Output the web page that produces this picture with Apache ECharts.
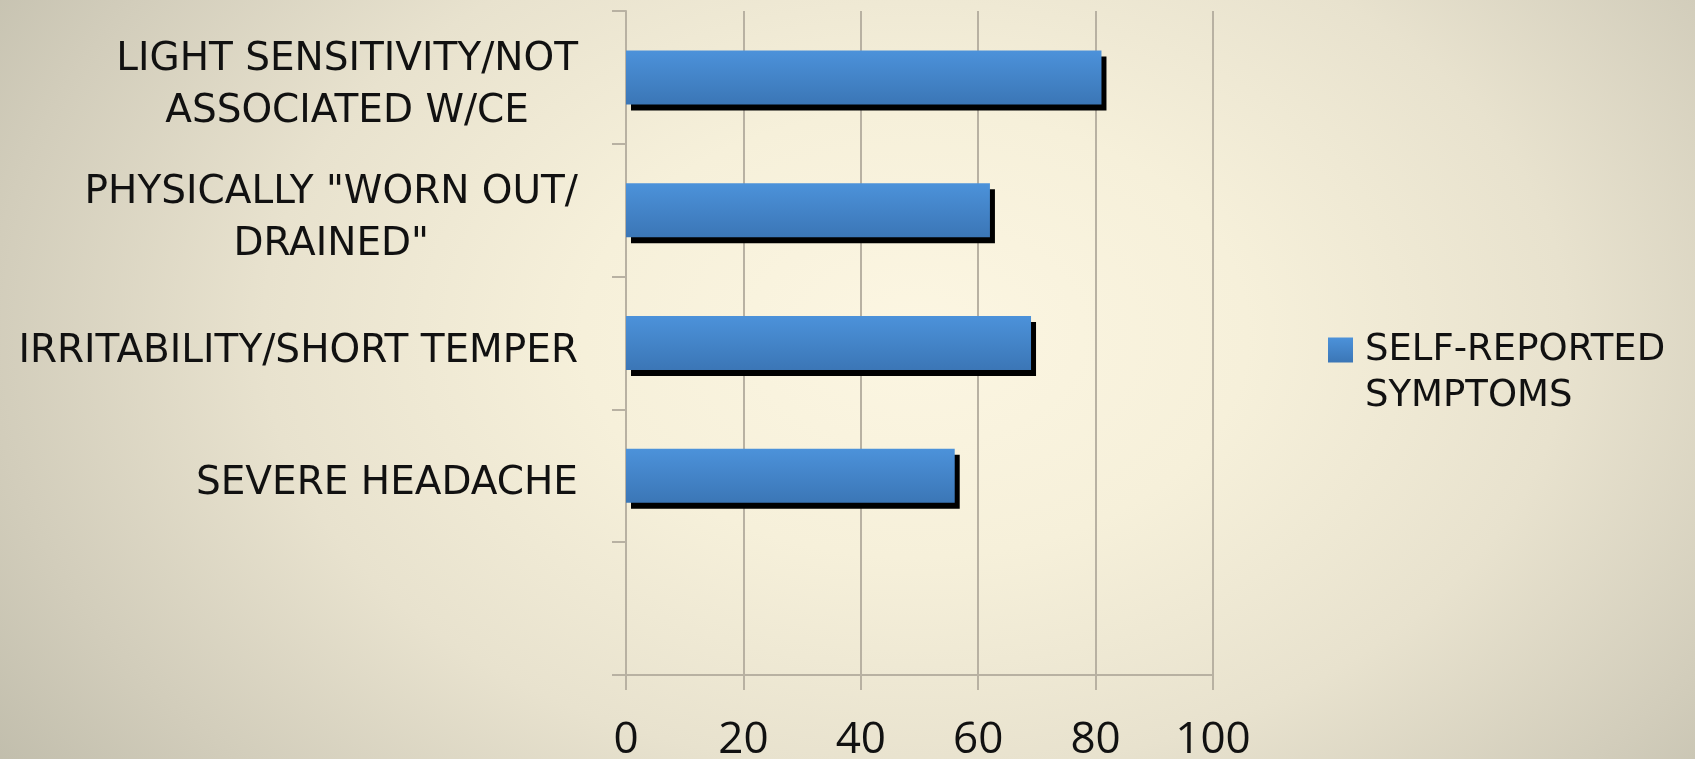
<!DOCTYPE html>
<html>
<head>
<meta charset="utf-8">
<script src="https://cdn.jsdelivr.net/npm/echarts@6/dist/echarts.min.js"></script>
<style>
  html, body { margin: 0; padding: 0; }
  #chart {
    width: 1695px;
    height: 759px;
    background: radial-gradient(ellipse 70% 105% at 54% 44%,
      #fcf6e2 0%, #f6f0da 28%, #e8e2ce 55%, #d2cdbb 78%, #bbb8a7 100%);
  }
</style>
</head>
<body>
<div id="chart"></div>
<script>
// Symptom categories, listed top to bottom (last row is an empty slot)
const categories = [
  'LIGHT SENSITIVITY/NOT\nASSOCIATED W/CE',
  'PHYSICALLY "WORN OUT/\nDRAINED"',
  'IRRITABILITY/SHORT TEMPER',
  'SEVERE HEADACHE',
  ''
];
// Percent of respondents reporting each symptom
const selfReported = [81, 62, 69, 56, null];
const seriesName = 'SELF-REPORTED\nSYMPTOMS';
const xTicks = { min: 0, max: 100, interval: 20 };

const gridColor = '#b8b1a2';
const textColor = '#111111';

const chart = echarts.init(document.getElementById('chart'), null, { renderer: 'canvas' });

chart.setOption({
  backgroundColor: 'transparent',
  animation: false,
  grid: {
    left: 626, right: 482, top: 11, bottom: 84,
    containLabel: false,
    outerBoundsMode: 'none'
  },
  legend: {
    show: true,
    left: 1328,
    top: 281,
    padding: 0,
    orient: 'vertical',
    icon: 'rect',
    itemWidth: 25,
    itemHeight: 25,
    itemStyle: { shadowColor: 'transparent', shadowOffsetX: 0, shadowOffsetY: 0, shadowBlur: 0 },
    formatter: name => '\n' + name,
    textStyle: {
      fontFamily: 'DejaVu Sans',
      fontSize: 37,
      lineHeight: 46,
      padding: [0, 0, 0, 7],
      color: textColor
    }
  },
  xAxis: {
    type: 'value',
    min: xTicks.min,
    max: xTicks.max,
    interval: xTicks.interval,
    axisLine: { show: true, lineStyle: { color: gridColor, width: 2 } },
    axisTick: { show: true, length: 15, lineStyle: { color: gridColor, width: 2 } },
    splitLine: { show: true, lineStyle: { color: gridColor, width: 2 } },
    axisLabel: {
      margin: 43,
      fontFamily: 'Open Sans',
      fontSize: 44,
      color: textColor
    }
  },
  yAxis: {
    type: 'category',
    inverse: true,
    data: categories,
    axisLine: { show: true, lineStyle: { color: gridColor, width: 2 } },
    axisTick: { show: true, length: 14, lineStyle: { color: gridColor, width: 2 } },
    splitLine: { show: false },
    axisLabel: {
      margin: 48,
      color: textColor,
      fontFamily: 'DejaVu Sans',
      fontSize: 39,
      lineHeight: 52,
      padding: [17, 0, 0, 0],
      formatter: v => v.split('\n').map(s => '{c|' + s + '}').join('\n'),
      rich: {
        c: {
          align: 'center',
          fontFamily: 'DejaVu Sans',
          fontSize: 39,
          lineHeight: 52,
          color: textColor
        }
      }
    }
  },
  series: [{
    name: seriesName,
    type: 'bar',
    data: selfReported,
    barWidth: 54,
    itemStyle: {
      color: new echarts.graphic.LinearGradient(0, 0, 0, 1, [
        { offset: 0, color: '#4c92da' },
        { offset: 1, color: '#3b76b6' }
      ]),
      shadowColor: '#000000',
      shadowBlur: 0,
      shadowOffsetX: 5,
      shadowOffsetY: 6
    }
  }]
});
</script>
</body>
</html>
